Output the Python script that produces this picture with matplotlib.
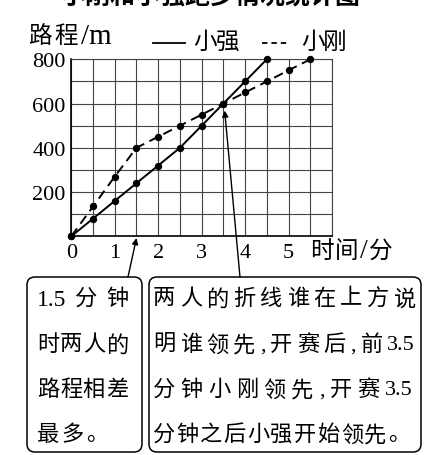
import matplotlib
matplotlib.use("Agg")
import matplotlib.pyplot as plt
from matplotlib.lines import Line2D
from matplotlib.patches import FancyBboxPatch
import numpy as np

# ---- data ----
time_qiang = [0, 0.5, 1, 1.5, 2, 2.5, 3, 3.5, 4, 4.5]
dist_qiang = [0, 80, 160, 240, 320, 400, 500, 600, 700, 800]
time_gang = [0, 0.5, 1, 1.5, 2, 2.5, 3, 3.5, 4, 4.5, 5, 5.5]
dist_gang = [0, 135, 270, 400, 450, 500, 550, 600, 650, 700, 750, 800]
x_tick_labels = ["0", "1", "2", "3", "4", "5"]
y_tick_labels = ["200", "400", "600", "800"]
title = "小刚和小强跑步情况统计图"
y_label = "路程/m"
x_label = "时间/分"
legend_labels = ["小强", "小刚"]
left_box_lines = ["1.5 分钟", "时两人的", "路程相差", "最多。"]
right_box_lines = ["两人的折线谁在上方说", "明谁领先,开赛后,前 3.5",
                   "分钟小刚领先,开赛 3.5", "分钟之后小强开始领先。"]

FAM = ["Liberation Serif", "Noto Sans CJK SC"]
plt.rcParams['font.family'] = FAM

W, H = 429, 456
fig = plt.figure(figsize=(W / 100, H / 100), dpi=100)
fig.patch.set_facecolor("white")
renderer = fig.canvas.get_renderer()

def P(x, ytop):
    return (x / 100.0, (H - ytop) / 100.0)

tr = fig.dpi_scale_trans


def tokens_of(s):
    toks = []
    buf = ""
    for ch in s:
        if ch == " ":
            if buf:
                toks.append(buf)
                buf = ""
            continue
        if ord(ch) < 128 and ch != ",":
            buf += ch
        else:
            if buf:
                toks.append(buf)
                buf = ""
            toks.append(ch)
    if buf:
        toks.append(buf)
    return toks


def justified(s, x0, x1, ytop, fs, fs_ascii=None, natural_gap=None):
    if fs_ascii is None:
        fs_ascii = fs
    toks = tokens_of(s)
    arts = []
    for t in toks:
        f = fs_ascii if (ord(t[0]) < 128) else fs
        arts.append(fig.text(0, 1 - ytop / H, t, ha="left", va="center",
                             fontsize=f, family=FAM))
    widths = [a.get_window_extent(renderer).width for a in arts]
    total = sum(widths)
    if natural_gap is not None:
        gap = natural_gap
    else:
        gap = (x1 - x0 - total) / (len(toks) - 1) if len(toks) > 1 else 0
    x = x0
    for a, w in zip(arts, widths):
        a.set_x(x / W)
        x += w + gap


ax_l, ax_r, ax_t, ax_b = 71.3, 332.0, 60.3, 237.3
ax = fig.add_axes([ax_l / W, 1 - ax_b / H, (ax_r - ax_l) / W, (ax_b - ax_t) / H])
ax.set_xlim(0, 6)
ax.set_ylim(0, 800)

grid_c = "#444444"
xt = np.arange(0, 6.01, 0.5)
yt = np.arange(0, 801, 100)
ax.set_xticks(xt)
ax.set_yticks(yt)
xl = []
for v in xt:
    if abs(v - round(v)) < 1e-9 and int(round(v)) < len(x_tick_labels):
        xl.append(x_tick_labels[int(round(v))])
    else:
        xl.append("")
yl = []
for v in yt:
    s = str(int(v))
    yl.append(s if s in y_tick_labels else "")
ax.set_xticklabels(xl, fontsize=16, family=FAM)
ax.set_yticklabels(yl, fontsize=16, family=FAM)
ax.tick_params(length=0, pad=4)
ax.tick_params(axis='x', pad=5)
ax.grid(True, color=grid_c, lw=0.8)
ax.set_axisbelow(True)
for s in ["top", "right"]:
    ax.spines[s].set_color(grid_c)
    ax.spines[s].set_linewidth(0.8)
for s in ["left", "bottom"]:
    ax.spines[s].set_color("black")
    ax.spines[s].set_linewidth(1.2)

ax.plot(time_qiang, dist_qiang, color="black", lw=1.4, marker="o", ms=4.3,
        clip_on=False, zorder=3)
ax.plot(time_gang, dist_gang, color="black", lw=1.4, marker="o", ms=4.3,
        dashes=(5, 3), clip_on=False, zorder=3)

# title (cut off at top)
fig.text(210 / W, 1 - 4 / H, title, ha="center", va="baseline", fontsize=18,
         fontweight="bold", family=FAM)

# y label
justified(y_label, 28, 118, 37, 17, fs_ascii=21, natural_gap=3)

# legend
fig.add_artist(Line2D([153 / W, 185 / W], [1 - 44 / H, 1 - 44 / H], color="black", lw=1.3,
                      transform=fig.transFigure))
justified(legend_labels[0], 193, 240, 43, 17)
fig.add_artist(Line2D([262 / W, 290 / W], [1 - 44 / H, 1 - 44 / H], color="black", lw=1.3,
                      dashes=(3, 2.2), transform=fig.transFigure))
justified(legend_labels[1], 301, 347, 43, 17)

# x label
justified(x_label, 310, 393, 252, 17, fs_ascii=20)

# boxes
for (x0, y0, x1, y1) in [(27, 278, 142, 453), (149, 278, 421, 453)]:
    bx, by = P(x0, y1)
    box = FancyBboxPatch((bx, by), (x1 - x0) / 100.0, (y1 - y0) / 100.0,
                         boxstyle="round,pad=0,rounding_size=0.08",
                         transform=tr, fill=False, ec="black", lw=1.1)
    fig.add_artist(box)

line_y = [300, 346, 391, 436]
left_ends = [128, 128, 128, None]
for txt, yy, xe in zip(left_box_lines, line_y, left_ends):
    if xe is None:
        justified(txt, 37, 128, yy, 16, fs_ascii=17, natural_gap=2.5)
    else:
        justified(txt, 37, xe, yy, 16, fs_ascii=17)
right_ends = [416, 415, 413, 410]
for txt, yy, xe in zip(right_box_lines, line_y, right_ends):
    justified(txt, 153, xe, yy, 16, fs_ascii=16)

# arrows
ax.annotate("", xy=(1.5, -8), xycoords="data",
            xytext=(128, H - 278), textcoords="figure pixels",
            arrowprops=dict(arrowstyle="-|>", color="black", lw=1.0, mutation_scale=9,
                            shrinkA=0, shrinkB=0), annotation_clip=False)
ax.annotate("", xy=(3.53, 568), xycoords="data",
            xytext=(240, H - 278), textcoords="figure pixels",
            arrowprops=dict(arrowstyle="-|>", color="black", lw=1.0, mutation_scale=9,
                            shrinkA=0, shrinkB=0), annotation_clip=False)

fig.savefig("out.png", dpi=100)
